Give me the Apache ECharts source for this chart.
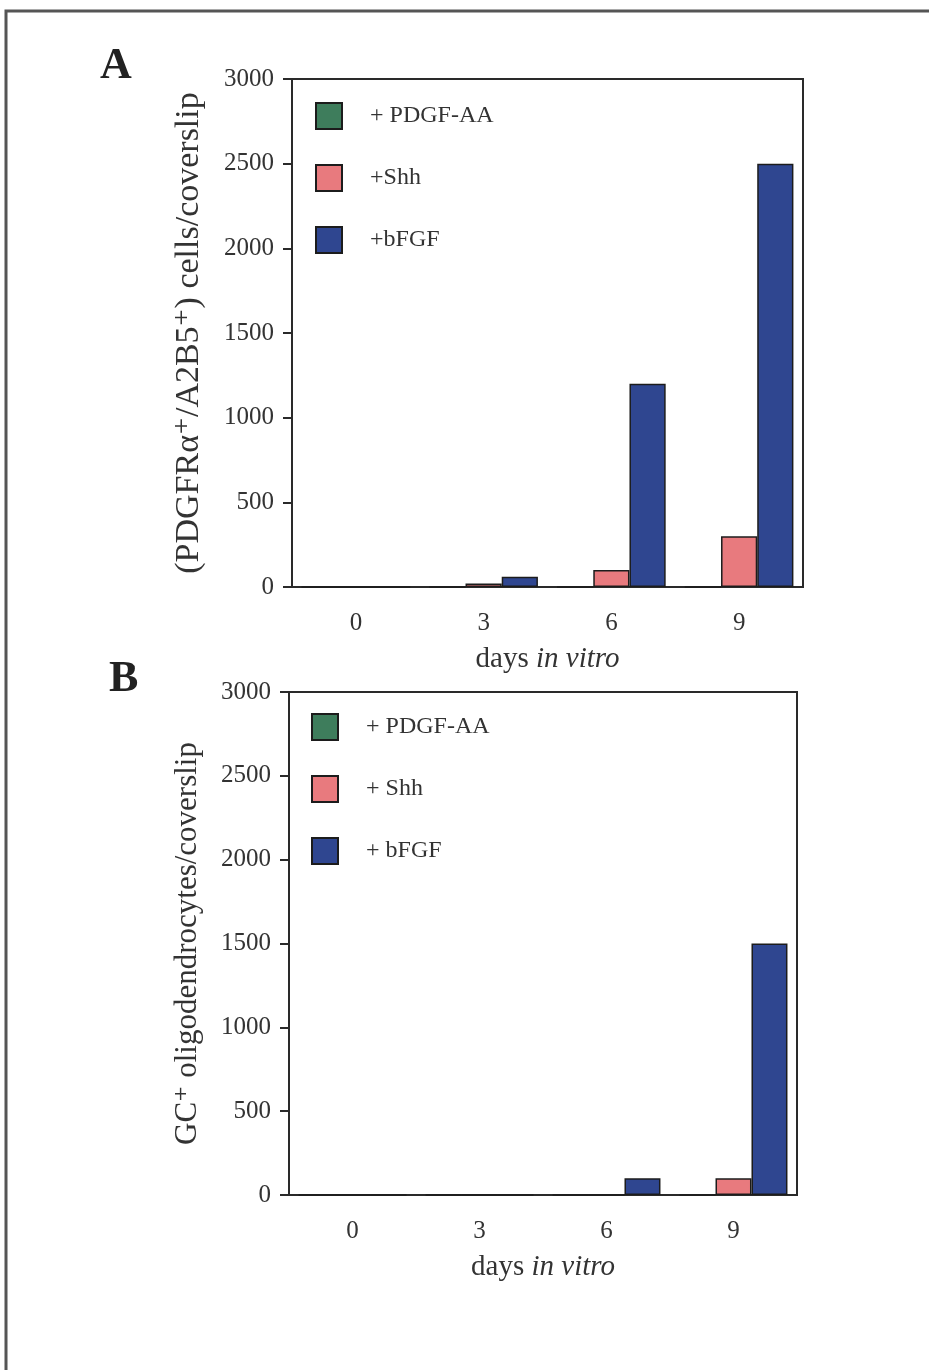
<!DOCTYPE html>
<html>
<head>
<meta charset="utf-8">
<script src="https://cdn.jsdelivr.net/npm/echarts@6/dist/echarts.min.js"></script>
<style>
html,body{margin:0;padding:0;background:#fff;}
#chart{width:929px;height:1370px;}
</style>
</head>
<body>
<div id="chart"></div>
<script>
const days = ['0', '3', '6', '9'];
const yTicks = [0, 500, 1000, 1500, 2000, 2500, 3000];
// Panel A: (PDGFRa+/A2B5+) cells/coverslip
const aPDGF = [0, 0, 0, 0];
const aShh = [0, 20, 100, 300];
const aBFGF = [0, 60, 1200, 2500];
// Panel B: GC+ oligodendrocytes/coverslip
const bPDGF = [0, 0, 0, 0];
const bShh = [0, 0, 0, 100];
const bBFGF = [0, 0, 100, 1500];

const namesA = ['+ PDGF-AA', '+Shh', '+bFGF'];
const namesB = ['+ PDGF-AA', '+ Shh', '+ bFGF'];
const colors = ['#3e7d5c', '#e87a7e', '#2f4690'];

const FONT = "'Liberation Serif', 'DejaVu Serif', serif";
const ink = '#2a2a2a';

const chart = echarts.init(document.getElementById('chart'), null, {renderer: 'canvas'});

function xAxisCfg(gi) {
  return {
    type: 'category', gridIndex: gi, data: days,
    axisLine: {lineStyle: {color: ink, width: 2}},
    axisTick: {alignWithLabel: true, length: 9, lineStyle: {color: ink, width: 2}},
    axisLabel: {margin: 24, color: '#333', fontFamily: FONT, fontSize: 25},
    name: 'days {i|in vitro}', nameLocation: 'middle', nameGap: 58,
    nameTextStyle: {color: '#333', fontFamily: FONT, fontSize: 29,
      rich: {i: {fontStyle: 'italic', fontFamily: FONT, fontSize: 29, color: '#333'}}}
  };
}
function yAxisCfg(gi, title, fs) {
  return {
    type: 'value', gridIndex: gi, min: 0, max: 3000, interval: 500,
    axisLine: {show: true, lineStyle: {color: ink, width: 2}},
    axisTick: {show: true, length: 9, lineStyle: {color: ink, width: 2}},
    splitLine: {show: false},
    axisLabel: {margin: 18, color: '#333', fontFamily: FONT, fontSize: 25,
      formatter: v => (yTicks.indexOf(v) >= 0 ? String(v) : '')},
    name: title, nameLocation: 'middle', nameGap: 86,
    nameTextStyle: {color: '#333', fontFamily: FONT, fontSize: fs}
  };
}
function bar(name, data, ci, gi) {
  return {
    type: 'bar', name: name, data: data, xAxisIndex: gi, yAxisIndex: gi,
    barGap: '0%', barCategoryGap: '15%',
    itemStyle: {color: colors[ci], borderColor: '#1c1c1c', borderWidth: 1.5},
    emphasis: {disabled: true}
  };
}
function legendCfg(names, left, top) {
  return {
    data: names.map((n, i) => ({name: n, itemStyle: {color: colors[i], borderColor: '#1c1c1c', borderWidth: 2}})),
    orient: 'vertical', left: left, top: top, icon: 'rect', padding: 0,
    itemWidth: 26, itemHeight: 26, itemGap: 34,
    textStyle: {fontFamily: FONT, fontSize: 24, color: '#333', padding: [0, 0, 0, 23]},
    selectedMode: false
  };
}

chart.setOption({
  animation: false,
  backgroundColor: '#fff',
  title: [
    {text: 'A', left: 95, top: 40, textStyle: {fontFamily: FONT, fontSize: 44, fontWeight: 'bold', color: '#222'}},
    {text: 'B', left: 104, top: 653, textStyle: {fontFamily: FONT, fontSize: 44, fontWeight: 'bold', color: '#222'}}
  ],
  legend: [legendCfg(namesA, 315, 102), legendCfg(namesB, 311, 713)],
  grid: [
    {left: 292, top: 79, width: 511, height: 508, show: true, borderColor: ink, borderWidth: 2, backgroundColor: 'transparent'},
    {left: 289, top: 692, width: 508, height: 503, show: true, borderColor: ink, borderWidth: 2, backgroundColor: 'transparent'}
  ],
  xAxis: [xAxisCfg(0), xAxisCfg(1)],
  yAxis: [yAxisCfg(0, '(PDGFRα\u207A/A2B5\u207A) cells/coverslip', 34), yAxisCfg(1, 'GC\u207A oligodendrocytes/coverslip', 31)],
  series: [
    bar(namesA[0], aPDGF, 0, 0), bar(namesA[1], aShh, 1, 0), bar(namesA[2], aBFGF, 2, 0),
    bar(namesB[0], bPDGF, 0, 1), bar(namesB[1], bShh, 1, 1), bar(namesB[2], bBFGF, 2, 1)
  ],
  graphic: [
    {type: 'polyline', silent: true, shape: {points: [[6, 1370], [6, 11], [929, 11]]}, style: {stroke: '#555', lineWidth: 3, fill: null}}
  ]
});
</script>
</body>
</html>
